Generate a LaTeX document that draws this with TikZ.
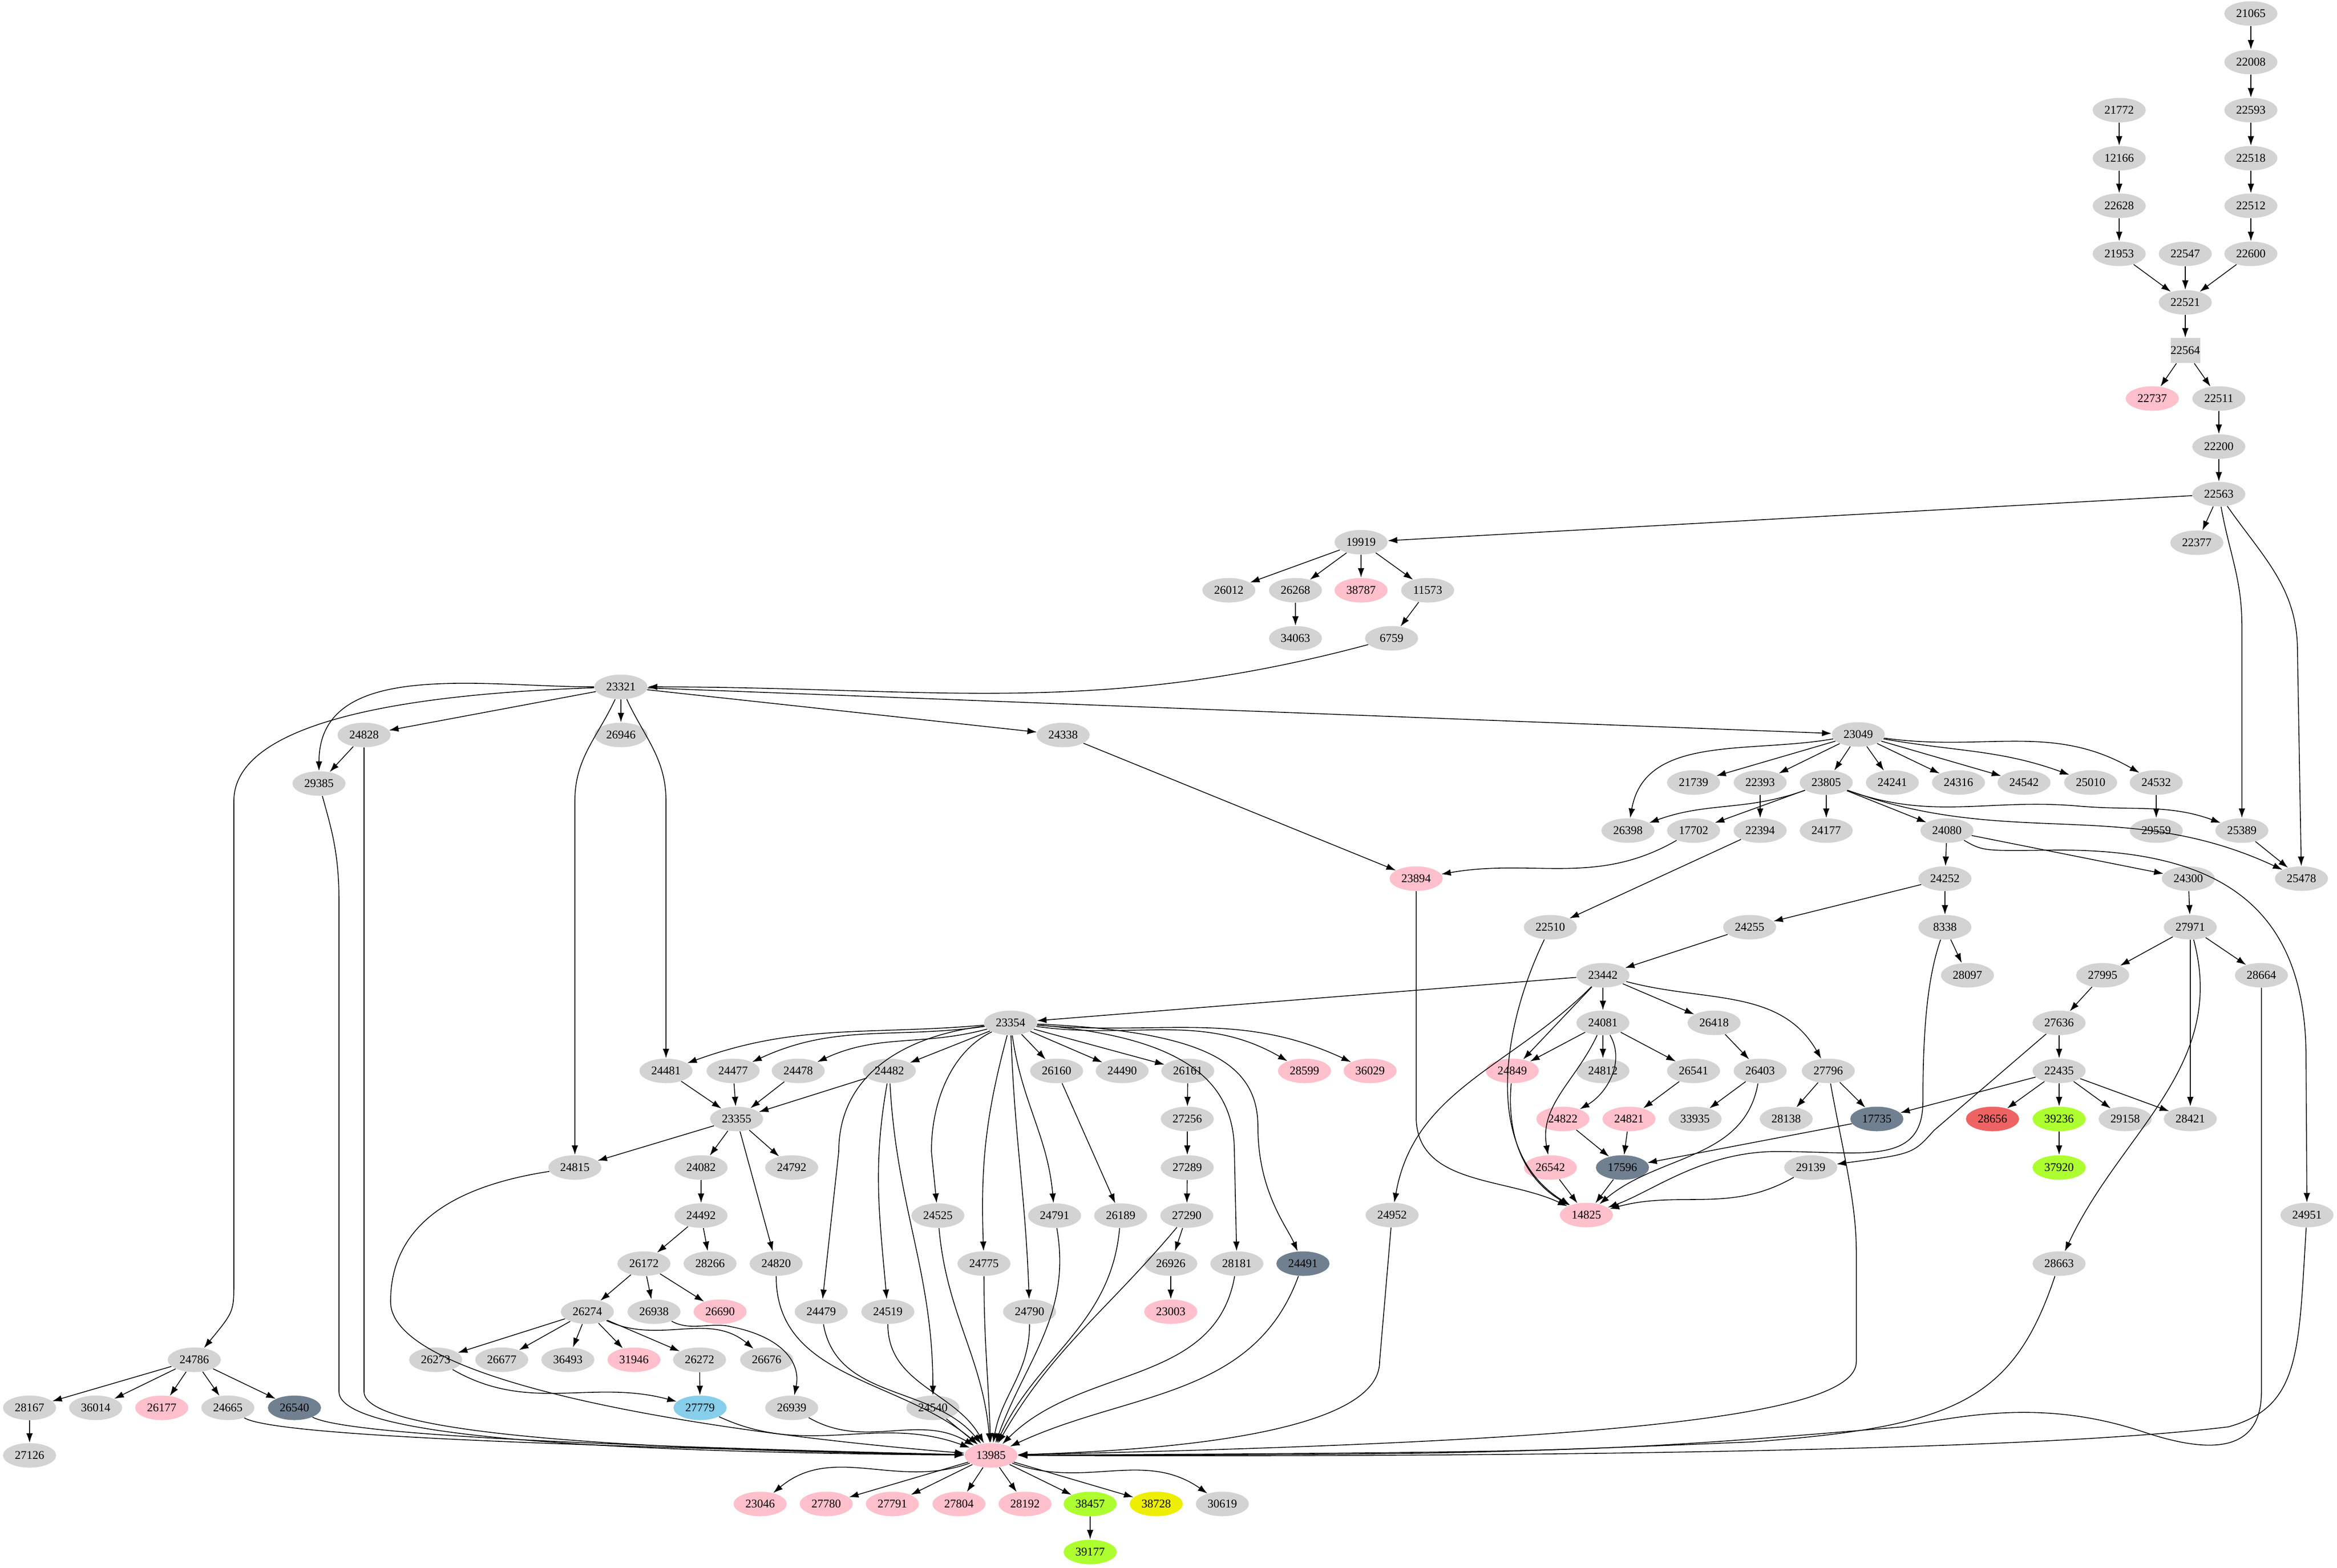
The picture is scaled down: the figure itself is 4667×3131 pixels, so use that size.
\documentclass[tikz,border=0pt]{standalone}
\usepackage{fontspec}
\setmainfont{Liberation Serif}
\usetikzlibrary{arrows.meta,shapes.geometric}
\definecolor{cgray}{HTML}{D3D3D3}
\definecolor{cpink}{HTML}{FFC0CB}
\definecolor{cslate}{HTML}{708090}
\definecolor{csky}{HTML}{87CEEB}
\definecolor{cgreen}{HTML}{ADFF2F}
\definecolor{cyel}{HTML}{EEEE00}
\definecolor{cred}{HTML}{EE6363}
\tikzset{
  nd/.style={ellipse,fill=cgray,draw=none,minimum width=10.6mm,minimum height=4.9mm,inner sep=0pt,font=\fontsize{6.7}{8}\selectfont},
  pk/.style={nd,fill=cpink},
  sl/.style={nd,fill=cslate},
  sk/.style={nd,fill=csky},
  gr/.style={nd,fill=cgreen},
  ye/.style={nd,fill=cyel},
  rd/.style={nd,fill=cred},
  bx/.style={rectangle,fill=cgray,minimum width=5mm,minimum height=5mm,inner sep=0pt,font=\fontsize{6.7}{8}\selectfont},
  e/.style={-{Latex[length=1.9mm,width=1.3mm]},line width=0.45pt}
}
\begin{document}
\begin{tikzpicture}[x=0.1mm,y=-0.1mm]
\useasboundingbox (0,0) rectangle (4667,3131);
% nodes
\node[nd] (n21065) at (4495,27) {21065};
\node[nd] (n22008) at (4495,124) {22008};
\node[nd] (n22593) at (4495,220) {22593};
\node[nd] (n21772) at (4232,220) {21772};
\node[nd] (n12166) at (4232,316) {12166};
\node[nd] (n22518) at (4495,316) {22518};
\node[nd] (n22628) at (4232,411) {22628};
\node[nd] (n22512) at (4495,411) {22512};
\node[nd] (n21953) at (4232,507) {21953};
\node[nd] (n22547) at (4364,507) {22547};
\node[nd] (n22600) at (4495,507) {22600};
\node[nd] (n22521) at (4364,604) {22521};
\node[bx] (n22564) at (4364,700) {22564};
\node[pk] (n22737) at (4298,796) {22737};
\node[nd] (n22511) at (4431,796) {22511};
\node[nd] (n22200) at (4431,892) {22200};
\node[nd] (n22563) at (4431,987) {22563};
\node[nd] (n22377) at (4387,1084) {22377};
\node[nd] (n19919) at (2718,1083) {19919};
\node[nd] (n26012) at (2454,1179) {26012};
\node[nd] (n26268) at (2587,1179) {26268};
\node[pk] (n38787) at (2718,1179) {38787};
\node[nd] (n11573) at (2851,1179) {11573};
\node[nd] (n34063) at (2587,1275) {34063};
\node[nd] (n6759) at (2779,1275) {6759};
\node[nd] (n23321) at (1240,1372) {23321};
\node[nd] (n24828) at (727,1468) {24828};
\node[nd] (n26946) at (1240,1468) {26946};
\node[nd] (n24338) at (2123,1468) {24338};
\node[nd] (n29385) at (637,1565) {29385};
\node[nd] (n23049) at (3711,1467) {23049};
\node[nd] (n21739) at (3382,1563) {21739};
\node[nd] (n22393) at (3515,1563) {22393};
\node[nd] (n23805) at (3647,1563) {23805};
\node[nd] (n24241) at (3779,1563) {24241};
\node[nd] (n24316) at (3911,1563) {24316};
\node[nd] (n24542) at (4042,1563) {24542};
\node[nd] (n25010) at (4175,1563) {25010};
\node[nd] (n24532) at (4306,1563) {24532};
\node[nd] (n26398) at (3251,1659) {26398};
\node[nd] (n17702) at (3382,1659) {17702};
\node[nd] (n22394) at (3515,1659) {22394};
\node[nd] (n24177) at (3647,1659) {24177};
\node[nd] (n24080) at (3888,1659) {24080};
\node[nd] (n29559) at (4306,1659) {29559};
\node[nd] (n25389) at (4477,1659) {25389};
\node[pk] (n23894) at (2828,1755) {23894};
\node[nd] (n24252) at (3884,1755) {24252};
\node[nd] (n24300) at (4370,1755) {24300};
\node[nd] (n25478) at (4596,1755) {25478};
\node[nd] (n22510) at (3096,1852) {22510};
\node[nd] (n24255) at (3494,1852) {24255};
\node[nd] (n8338) at (3884,1852) {8338};
\node[nd] (n27971) at (4374,1852) {27971};
\node[nd] (n23442) at (3201,1948) {23442};
\node[nd] (n28097) at (3929,1948) {28097};
\node[nd] (n27995) at (4199,1948) {27995};
\node[nd] (n28664) at (4516,1948) {28664};
\node[nd] (n23354) at (2018,2043) {23354};
\node[nd] (n24081) at (3201,2043) {24081};
\node[nd] (n26418) at (3423,2043) {26418};
\node[nd] (n27636) at (4112,2043) {27636};
\node[nd] (n24481) at (1330,2139) {24481};
\node[nd] (n24477) at (1464,2139) {24477};
\node[nd] (n24478) at (1594,2139) {24478};
\node[nd] (n24482) at (1776,2139) {24482};
\node[nd] (n26160) at (2110,2139) {26160};
\node[nd] (n24490) at (2241,2139) {24490};
\node[nd] (n26161) at (2372,2139) {26161};
\node[pk] (n28599) at (2605,2139) {28599};
\node[pk] (n36029) at (2736,2139) {36029};
\node[pk] (n24849) at (3020,2139) {24849};
\node[nd] (n24812) at (3201,2139) {24812};
\node[nd] (n26541) at (3382,2139) {26541};
\node[nd] (n26403) at (3515,2139) {26403};
\node[nd] (n27796) at (3651,2139) {27796};
\node[nd] (n22435) at (4112,2139) {22435};
\node[nd] (n23355) at (1471,2235) {23355};
\node[nd] (n27256) at (2371,2235) {27256};
\node[pk] (n24822) at (3121,2235) {24822};
\node[pk] (n24821) at (3253,2235) {24821};
\node[nd] (n33935) at (3385,2235) {33935};
\node[nd] (n28138) at (3567,2235) {28138};
\node[sl] (n17735) at (3748,2235) {17735};
\node[rd] (n28656) at (3979,2235) {28656};
\node[gr] (n39236) at (4112,2235) {39236};
\node[nd] (n29158) at (4244,2235) {29158};
\node[nd] (n28421) at (4374,2235) {28421};
\node[nd] (n24815) at (1148,2332) {24815};
\node[nd] (n24082) at (1400,2332) {24082};
\node[nd] (n24792) at (1581,2332) {24792};
\node[nd] (n27289) at (2371,2332) {27289};
\node[pk] (n26542) at (3096,2332) {26542};
\node[sl] (n17596) at (3240,2332) {17596};
\node[nd] (n29139) at (3616,2332) {29139};
\node[gr] (n37920) at (4112,2332) {37920};
\node[nd] (n24492) at (1400,2428) {24492};
\node[nd] (n24525) at (1873,2428) {24525};
\node[nd] (n24791) at (2106,2428) {24791};
\node[nd] (n26189) at (2238,2428) {26189};
\node[nd] (n27290) at (2370,2428) {27290};
\node[nd] (n24952) at (2780,2427) {24952};
\node[pk] (n14825) at (3168,2427) {14825};
\node[nd] (n24951) at (4607,2427) {24951};
\node[nd] (n26172) at (1286,2524) {26172};
\node[nd] (n28266) at (1418,2524) {28266};
\node[nd] (n24820) at (1550,2524) {24820};
\node[nd] (n24775) at (1965,2524) {24775};
\node[nd] (n26926) at (2338,2524) {26926};
\node[nd] (n28181) at (2470,2524) {28181};
\node[sl] (n24491) at (2602,2524) {24491};
\node[nd] (n28663) at (4112,2524) {28663};
\node[nd] (n26274) at (1173,2620) {26274};
\node[nd] (n26938) at (1306,2620) {26938};
\node[pk] (n26690) at (1438,2620) {26690};
\node[nd] (n24479) at (1640,2620) {24479};
\node[nd] (n24519) at (1773,2620) {24519};
\node[nd] (n24790) at (2056,2620) {24790};
\node[pk] (n23003) at (2338,2620) {23003};
\node[nd] (n24786) at (388,2716) {24786};
\node[nd] (n26273) at (870,2716) {26273};
\node[nd] (n26677) at (1002,2716) {26677};
\node[nd] (n36493) at (1134,2716) {36493};
\node[pk] (n31946) at (1266,2716) {31946};
\node[nd] (n26272) at (1397,2716) {26272};
\node[nd] (n26676) at (1531,2716) {26676};
\node[nd] (n28167) at (59,2812) {28167};
\node[nd] (n36014) at (191,2812) {36014};
\node[pk] (n26177) at (323,2812) {26177};
\node[nd] (n24665) at (455,2812) {24665};
\node[sl] (n26540) at (588,2812) {26540};
\node[sk] (n27779) at (1398,2812) {27779};
\node[nd] (n26939) at (1581,2812) {26939};
\node[nd] (n24540) at (1863,2812) {24540};
\node[pk] (n13985) at (1979,2907) {13985};
\node[nd] (n27126) at (59,2907) {27126};
\node[pk] (n23046) at (1518,3004) {23046};
\node[pk] (n27780) at (1650,3004) {27780};
\node[pk] (n27791) at (1782,3004) {27791};
\node[pk] (n27804) at (1915,3004) {27804};
\node[pk] (n28192) at (2047,3004) {28192};
\node[gr] (n38457) at (2177,3004) {38457};
\node[ye] (n38728) at (2309,3004) {38728};
\node[nd] (n30619) at (2441,3004) {30619};
\node[gr] (n39177) at (2177,3100) {39177};
% edges
\draw[e] (n21065)--(n22008); \draw[e] (n22008)--(n22593); \draw[e] (n22593)--(n22518);
\draw[e] (n22518)--(n22512); \draw[e] (n22512)--(n22600); \draw[e] (n22600)--(n22521);
\draw[e] (n21772)--(n12166); \draw[e] (n12166)--(n22628); \draw[e] (n22628)--(n21953);
\draw[e] (n21953)--(n22521); \draw[e] (n22547)--(n22521); \draw[e] (n22521)--(n22564);
\draw[e] (n22564)--(n22737); \draw[e] (n22564)--(n22511); \draw[e] (n22511)--(n22200);
\draw[e] (n22200)--(n22563); \draw[e] (n22563)--(n19919); \draw[e] (n22563)--(n22377);
\draw[e] (n22563) to[out=-80,in=90] (4477,1250) -- (n25389);
\draw[e] (n22563) to[out=-55,in=90] (4588,1300) -- (n25478);
\draw[e] (n19919)--(n26012); \draw[e] (n19919)--(n26268); \draw[e] (n19919)--(n38787);
\draw[e] (n19919)--(n11573); \draw[e] (n26268)--(n34063); \draw[e] (n11573)--(n6759);
\draw[e] (n6759) to[out=195,in=0] (n23321);
\draw[e] (n23321)--(n24828); \draw[e] (n23321)--(n26946); \draw[e] (n23321)--(n24338);
\draw[e] (n23321)--(n23049); \draw[e] (n24828)--(n29385);
\draw[e] (n23321) to[out=180,in=90] (n29385);
\draw[e] (n23321) .. controls (700,1390) and (467,1470) .. (467,1600) -- (467,2560) .. controls (467,2620) .. (n24786);
\draw[e] (n23321) to[out=-115,in=90] (1148,1600) -- (n24815);
\draw[e] (n23321) to[out=-65,in=90] (1330,1600) -- (n24481);
\draw[e] (n24338)--(n23894); \draw[e] (n17702) to[out=-150,in=10] (n23894);
\draw[e] (n23049) to[out=190,in=80] (n26398);
\draw[e] (n23049)--(n21739); \draw[e] (n23049)--(n22393); \draw[e] (n23049)--(n23805);
\draw[e] (n23049)--(n24241); \draw[e] (n23049)--(n24316); \draw[e] (n23049)--(n24542);
\draw[e] (n23049) to[out=-10,in=160] (n25010); \draw[e] (n23049) to[out=-8,in=150] (n24532);
\draw[e] (n23805) to[out=-160,in=20] (n26398); \draw[e] (n23805)--(n17702);
\draw[e] (n23805)--(n24177); \draw[e] (n23805)--(n24080);
\draw[e] (n23805) to[out=-20,in=175] (4150,1610) to[out=-5,in=160] (n25389);
\draw[e] (n23805) to[out=-20,in=155] (n25478);
\draw[e] (n22393)--(n22394); \draw[e] (n24532)--(n29559); \draw[e] (n25389)--(n25478);
\draw[e] (n22394)--(n22510);
\draw[e] (n24080)--(n24252); \draw[e] (n24080)--(n24300);
\draw[e] (n24080) .. controls (3960,1700) .. (4100,1698) .. controls (4420,1695) and (4600,1800) .. (4605,2100) -- (n24951);
\draw[e] (n24252)--(n24255); \draw[e] (n24252)--(n8338); \draw[e] (n24300)--(n27971);
\draw[e] (n24255)--(n23442); \draw[e] (n8338)--(n28097);
\draw[e] (n27971)--(n27995); \draw[e] (n27971)--(n28664); \draw[e] (n27971)--(n28421);
\draw[e] (n27971) to[out=-75,in=65] (n28663);
\draw[e] (n23442)--(n23354); \draw[e] (n23442)--(n24081); \draw[e] (n23442)--(n26418);
\draw[e] (n23442)--(n24849);
\draw[e] (n23442) to[out=-135,in=80] (n24952);
\draw[e] (n23442) to[out=-15,in=120] (n27796);
\draw[e] (n24081)--(n24849); \draw[e] (n24081)--(n24812); \draw[e] (n24081)--(n26541);
\draw[e] (n24081) to[out=-60,in=30] (n24822);
\draw[e] (n24081) to[out=-115,in=100] (n26542);
\draw[e] (n26418)--(n26403); \draw[e] (n26541)--(n24821);
\draw[e] (n26403)--(n33935); \draw[e] (n27796)--(n28138); \draw[e] (n27796)--(n17735);
\draw[e] (n27995)--(n27636); \draw[e] (n27636)--(n22435);
\draw[e] (n27636) -- (3862,2258) .. controls (3820,2305) .. (n29139);
\draw[e] (n22435)--(n17735); \draw[e] (n22435)--(n28656); \draw[e] (n22435)--(n39236);
\draw[e] (n22435)--(n29158); \draw[e] (n22435)--(n28421); \draw[e] (n39236)--(n37920);
\draw[e] (n24822)--(n17596); \draw[e] (n24821)--(n17596); \draw[e] (n17735)--(n17596);
\draw[e] (n26542)--(n14825); \draw[e] (n17596)--(n14825);
\draw[e] (n29139) to[out=-150,in=15] (n14825);
\draw[e] (n26403) to[out=-100,in=40] (n14825);
\draw[e] (n24849) to[out=-95,in=150] (n14825);
\draw[e] (n22510) .. controls (3000,2050) and (2960,2300) .. (n14825);
\draw[e] (n23894) -- (2828,2230) to[out=-90,in=155] (n14825);
\draw[e] (n8338) .. controls (3850,1950) and (3840,2050) .. (3840,2200) .. controls (3840,2330) and (3720,2300) .. (3550,2300) .. controls (3400,2300) and (3300,2380) .. (n14825);
% 23354 children
\draw[e] (n23354) to[out=185,in=20] (n24481);
\draw[e] (n23354) to[out=188,in=25] (n24477);
\draw[e] (n23354) to[out=195,in=25] (n24478);
\draw[e] (n23354)--(n24482); \draw[e] (n23354)--(n26160); \draw[e] (n23354)--(n24490);
\draw[e] (n23354)--(n26161);
\draw[e] (n23354) to[out=-8,in=150] (n28599);
\draw[e] (n23354) to[out=-5,in=155] (n36029);
\draw[e] (n23354) .. controls (1800,2070) and (1675,2150) .. (1675,2300) -- (n24479);
\draw[e] (n23354) .. controls (1900,2100) and (1860,2200) .. (1860,2300) -- (n24525);
\draw[e] (n23354) to[out=-105,in=92] (n24775);
\draw[e] (n23354) to[out=-88,in=92] (n24790);
\draw[e] (n23354) to[out=-82,in=95] (n24791);
\draw[e] (n23354) .. controls (2350,2070) and (2465,2150) .. (2465,2300) -- (n28181);
\draw[e] (n23354) .. controls (2400,2060) and (2512,2120) .. (2512,2250) .. controls (2512,2380) and (2570,2450) .. (n24491);
\draw[e] (n24481)--(n23355); \draw[e] (n24477)--(n23355); \draw[e] (n24478)--(n23355);
\draw[e] (n24482)--(n23355);
\draw[e] (n24482) to[out=-100,in=95] (n24519);
\draw[e] (n24482) to[out=-87,in=90] (n24540);
\draw[e] (n23355)--(n24815); \draw[e] (n23355)--(n24082); \draw[e] (n23355)--(n24792);
\draw[e] (n23355)--(n24820);
\draw[e] (n24082)--(n24492); \draw[e] (n24492)--(n26172); \draw[e] (n24492)--(n28266);
\draw[e] (n26172)--(n26274); \draw[e] (n26172)--(n26938); \draw[e] (n26172)--(n26690);
\draw[e] (n26274)--(n26273); \draw[e] (n26274)--(n26677); \draw[e] (n26274)--(n36493);
\draw[e] (n26274)--(n31946); \draw[e] (n26274)--(n26272);
\draw[e] (n26274) to[out=-25,in=140] (n26676);
\draw[e] (n26272)--(n27779);
\draw[e] (n26273) to[out=-30,in=165] (n27779);
\draw[e] (n26938) .. controls (1380,2660) and (1420,2640) .. (1460,2650) .. controls (1560,2670) and (1600,2720) .. (n26939);
\draw[e] (n26160)--(n26189); \draw[e] (n26161)--(n27256); \draw[e] (n27256)--(n27289);
\draw[e] (n27289)--(n27290); \draw[e] (n27290)--(n26926); \draw[e] (n26926)--(n23003);
\draw[e] (n24786)--(n28167); \draw[e] (n24786)--(n36014); \draw[e] (n24786)--(n26177);
\draw[e] (n24786)--(n24665); \draw[e] (n24786)--(n26540); \draw[e] (n28167)--(n27126);
% into 13985
\draw[e] (n24665) .. controls (550,2870) and (1200,2890) .. (n13985);
\draw[e] (n26540) .. controls (700,2870) and (1300,2890) .. (n13985);
\draw[e] (n29385) .. controls (660,1650) and (677,1700) .. (677,1800) -- (677,2780) .. controls (677,2870) and (1200,2900) .. (n13985);
\draw[e] (n24828) -- (727,2780) .. controls (727,2860) and (1200,2895) .. (n13985);
\draw[e] (n24815) .. controls (900,2370) and (780,2450) .. (780,2600) .. controls (780,2760) and (1400,2860) .. (n13985);
\draw[e] (n27779) to[out=-25,in=160] (n13985);
\draw[e] (n26939) to[out=-30,in=150] (n13985);
\draw[e] (n24820) to[out=-90,in=140] (n13985);
\draw[e] (n24479) to[out=-80,in=130] (n13985);
\draw[e] (n24519) to[out=-90,in=120] (n13985);
\draw[e] (n24540)--(n13985);
\draw[e] (n24525) to[out=-85,in=95] (n13985);
\draw[e] (n24775) to[out=-90,in=92] (n13985);
\draw[e] (n24790) to[out=-90,in=80] (n13985);
\draw[e] (n24791) to[out=-80,in=70] (n13985);
\draw[e] (n26189) to[out=-95,in=65] (n13985);
\draw[e] (n27290) to[out=-130,in=60] (n13985);
\draw[e] (n28181) to[out=-100,in=45] (n13985);
\draw[e] (n24491) to[out=-110,in=25] (n13985);
\draw[e] (n24952) -- (2755,2720) .. controls (2755,2850) and (2400,2895) .. (n13985);
\draw[e] (n27796) .. controls (3680,2300) and (3707,2400) .. (3707,2500) -- (3707,2720) .. controls (3707,2830) and (3200,2880) .. (n13985);
\draw[e] (n28663) .. controls (4020,2800) and (3900,2850) .. (3500,2880) .. controls (2900,2905) .. (n13985);
\draw[e] (n28664) -- (4516,2780) .. controls (4516,2910) and (4400,2900) .. (4280,2860) .. controls (4100,2800) and (3950,2820) .. (3800,2850) .. controls (3200,2900) .. (n13985);
\draw[e] (n24951) .. controls (4590,2700) and (4595,2810) .. (4450,2850) .. controls (4000,2905) and (2800,2910) .. (n13985);
% out of 13985
\draw[e] (n13985) to[out=200,in=40] (n23046);
\draw[e] (n13985)--(n27780); \draw[e] (n13985)--(n27791); \draw[e] (n13985)--(n27804);
\draw[e] (n13985)--(n28192); \draw[e] (n13985)--(n38457); \draw[e] (n13985)--(n38728);
\draw[e] (n13985) to[out=-20,in=145] (n30619);
\draw[e] (n38457)--(n39177);
\end{tikzpicture}
\end{document}
